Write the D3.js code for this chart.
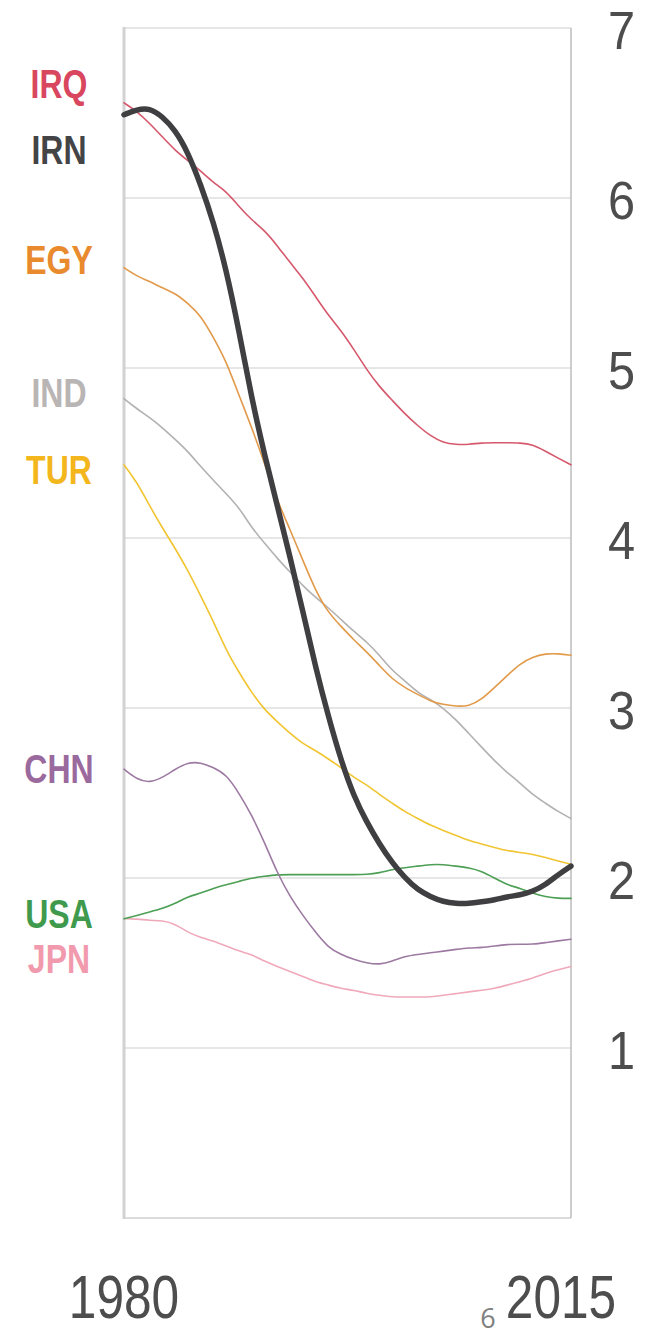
<!DOCTYPE html>
<html>
<head>
<meta charset="utf-8">
<script src="https://cdn.jsdelivr.net/npm/d3@7"></script>
<style>
  html, body { margin: 0; padding: 0; background: #ffffff; }
  svg { display: block; }
</style>
</head>
<body>
<script>
// ---------------- DATA ----------------
const years = d3.range(1980, 2016);
const countries = ["IRQ", "IRN", "EGY", "IND", "TUR", "CHN", "USA", "JPN"];
const yTicks = [1, 2, 3, 4, 5, 6, 7];
const xTickYears = [1980, 2015];
const xTickLabels = ["1980", "2015"];
const pageNumber = "6";

const IRQ = [6.56, 6.51, 6.44, 6.36, 6.28, 6.22, 6.16, 6.09, 6.04, 5.95,
             5.87, 5.81, 5.72, 5.62, 5.53, 5.42, 5.31, 5.22, 5.11, 4.99,
             4.89, 4.81, 4.73, 4.66, 4.60, 4.56, 4.55, 4.55, 4.56, 4.56,
             4.56, 4.56, 4.55, 4.51, 4.47, 4.43];
const IRN = [6.49, 6.52, 6.53, 6.48, 6.40, 6.27, 6.08, 5.86, 5.58, 5.22,
             4.82, 4.49, 4.19, 3.89, 3.57, 3.24, 2.95, 2.69, 2.48, 2.33,
             2.20, 2.09, 2.00, 1.93, 1.89, 1.86, 1.85, 1.85, 1.86, 1.87,
             1.89, 1.90, 1.92, 1.96, 2.02, 2.07];
const EGY = [5.59, 5.54, 5.51, 5.47, 5.44, 5.38, 5.31, 5.18, 5.04, 4.84,
             4.65, 4.44, 4.22, 4.05, 3.87, 3.69, 3.56, 3.48, 3.40, 3.33,
             3.25, 3.17, 3.12, 3.08, 3.04, 3.02, 3.01, 3.01, 3.05, 3.12,
             3.19, 3.26, 3.30, 3.32, 3.32, 3.31];
const IND = [4.82, 4.76, 4.71, 4.65, 4.58, 4.51, 4.42, 4.34, 4.26, 4.18,
             4.06, 3.97, 3.88, 3.80, 3.72, 3.65, 3.59, 3.52, 3.45, 3.39,
             3.31, 3.22, 3.16, 3.09, 3.05, 3.00, 2.93, 2.85, 2.77, 2.69,
             2.62, 2.56, 2.49, 2.44, 2.39, 2.35];
const TUR = [4.43, 4.33, 4.19, 4.06, 3.94, 3.81, 3.66, 3.51, 3.34, 3.21,
             3.09, 2.99, 2.92, 2.85, 2.79, 2.75, 2.70, 2.65, 2.59, 2.55,
             2.49, 2.44, 2.39, 2.35, 2.31, 2.28, 2.25, 2.22, 2.20, 2.18,
             2.16, 2.15, 2.14, 2.12, 2.10, 2.08];
const CHN = [2.64, 2.58, 2.56, 2.59, 2.64, 2.68, 2.68, 2.65, 2.61, 2.50,
             2.37, 2.21, 2.03, 1.89, 1.78, 1.68, 1.59, 1.55, 1.52, 1.50,
             1.49, 1.51, 1.54, 1.55, 1.56, 1.57, 1.58, 1.59, 1.59, 1.60,
             1.61, 1.61, 1.61, 1.62, 1.63, 1.64];
const USA = [1.76, 1.78, 1.80, 1.82, 1.85, 1.89, 1.91, 1.94, 1.96, 1.98,
             2.00, 2.01, 2.02, 2.02, 2.02, 2.02, 2.02, 2.02, 2.02, 2.02,
             2.03, 2.05, 2.06, 2.07, 2.08, 2.08, 2.07, 2.06, 2.04, 2.00,
             1.96, 1.94, 1.91, 1.89, 1.88, 1.88];
const JPN = [1.76, 1.76, 1.75, 1.75, 1.73, 1.68, 1.65, 1.63, 1.60, 1.57,
             1.55, 1.51, 1.48, 1.45, 1.42, 1.39, 1.37, 1.35, 1.34, 1.32,
             1.31, 1.30, 1.30, 1.30, 1.30, 1.31, 1.32, 1.33, 1.34, 1.35,
             1.37, 1.39, 1.41, 1.44, 1.46, 1.48];

const seriesValues = { IRQ, IRN, EGY, IND, TUR, CHN, USA, JPN };

// ---------------- STYLE / LAYOUT ----------------
const W = 653, H = 1336;
const plot = { left: 124, right: 571, top: 28, bottom: 1218 };

const lineColor = {
  IRQ: "#d6586c", IRN: "#3f3f41", EGY: "#e29a4a", IND: "#b3b1b1",
  TUR: "#f1c531", CHN: "#9d7aa2", USA: "#4c9f54", JPN: "#f0a9ba"
};
const labelColor = {
  IRQ: "#d9475f", IRN: "#444446", EGY: "#e98a2e", IND: "#b9b5b5",
  TUR: "#f3b61c", CHN: "#9a6a9e", USA: "#3f9a4d", JPN: "#f19aae"
};
const lineWidth = { IRN: 5.5 };
// label vertical nudges (px) relative to the series' first value
const labelNudge = { IRQ: -19, IRN: 35, EGY: -8, IND: -6, TUR: 5, CHN: 0, USA: -5, JPN: 40 };

// ---------------- CHART ----------------
const svg = d3.select("body").append("svg")
  .attr("width", W).attr("height", H)
  .attr("viewBox", `0 0 ${W} ${H}`);

const x = d3.scaleLinear().domain([1980, 2015]).range([plot.left, plot.right]);
const y = d3.scaleLinear().domain([0, 7]).range([plot.bottom, plot.top]);

// gridlines
svg.append("g").selectAll("line").data(yTicks).join("line")
  .attr("x1", plot.left).attr("x2", plot.right)
  .attr("y1", d => y(d)).attr("y2", d => y(d))
  .attr("stroke", "#e6e6e6").attr("stroke-width", 2);

// bottom baseline
svg.append("line")
  .attr("x1", plot.left).attr("x2", plot.right)
  .attr("y1", y(0)).attr("y2", y(0))
  .attr("stroke", "#dcdcdc").attr("stroke-width", 2);

// left axis line
svg.append("line")
  .attr("x1", plot.left).attr("x2", plot.left)
  .attr("y1", y(7) - 1).attr("y2", y(0) + 1)
  .attr("stroke", "#d2d2d2").attr("stroke-width", 3);

// right axis line
svg.append("line")
  .attr("x1", plot.right).attr("x2", plot.right)
  .attr("y1", y(7)).attr("y2", y(0))
  .attr("stroke", "#bdbdbd").attr("stroke-width", 1.5);

// right tick labels via axis
const yAxis = d3.axisRight(y).tickValues(yTicks).tickSize(0).tickPadding(0).tickFormat(d3.format("d"));
const yAxisG = svg.append("g").attr("transform", `translate(${plot.right},0)`).call(yAxis);
yAxisG.select(".domain").remove();
yAxisG.selectAll(".tick text")
  .attr("x", 0).attr("dy", null).attr("y", 0)
  .attr("text-anchor", "start")
  .attr("transform", "translate(37,20) scale(0.92,1)")
  .attr("fill", "#4d4d4d")
  .style("font-family", "'Liberation Sans', Arial, sans-serif")
  .style("font-size", "53px");

// lines
const line = d3.line()
  .x((d, i) => x(years[i]))
  .y(d => y(d))
  .curve(d3.curveBasis);

const order = ["JPN", "USA", "CHN", "TUR", "IND", "EGY", "IRQ", "IRN"];
svg.append("g").selectAll("path").data(order).join("path")
  .attr("d", c => line(seriesValues[c]))
  .attr("fill", "none")
  .attr("stroke", c => lineColor[c])
  .attr("stroke-width", c => lineWidth[c] || 1.6)
  .attr("stroke-linejoin", "round")
  .attr("stroke-linecap", "round");

// country labels
svg.append("g").selectAll("text").data(countries).join("text")
  .attr("transform", c => `translate(59,${y(seriesValues[c][0]) + labelNudge[c] + 14}) scale(0.8,1)`)
  .attr("text-anchor", "middle")
  .attr("fill", c => labelColor[c])
  .style("font-family", "'Liberation Sans', Arial, sans-serif")
  .style("font-weight", "bold")
  .style("font-size", "40px")
  .text(c => c);

// x tick labels
svg.append("g").selectAll("text").data(xTickYears).join("text")
  .attr("transform", (d, i) => `translate(${x(d) + (i === 0 ? 0 : -10)},1318) scale(0.8,1)`)
  .attr("text-anchor", "middle")
  .attr("fill", "#4d4d4d")
  .style("font-family", "'Liberation Sans', Arial, sans-serif")
  .style("font-size", "62px")
  .text((d, i) => xTickLabels[i]);

// page number
svg.append("text")
  .attr("x", 488).attr("y", 1328)
  .attr("text-anchor", "middle")
  .attr("fill", "#808080")
  .style("font-family", "'Open Sans', 'Noto Sans', sans-serif")
  .style("font-size", "27px")
  .text(pageNumber);
</script>
</body>
</html>
